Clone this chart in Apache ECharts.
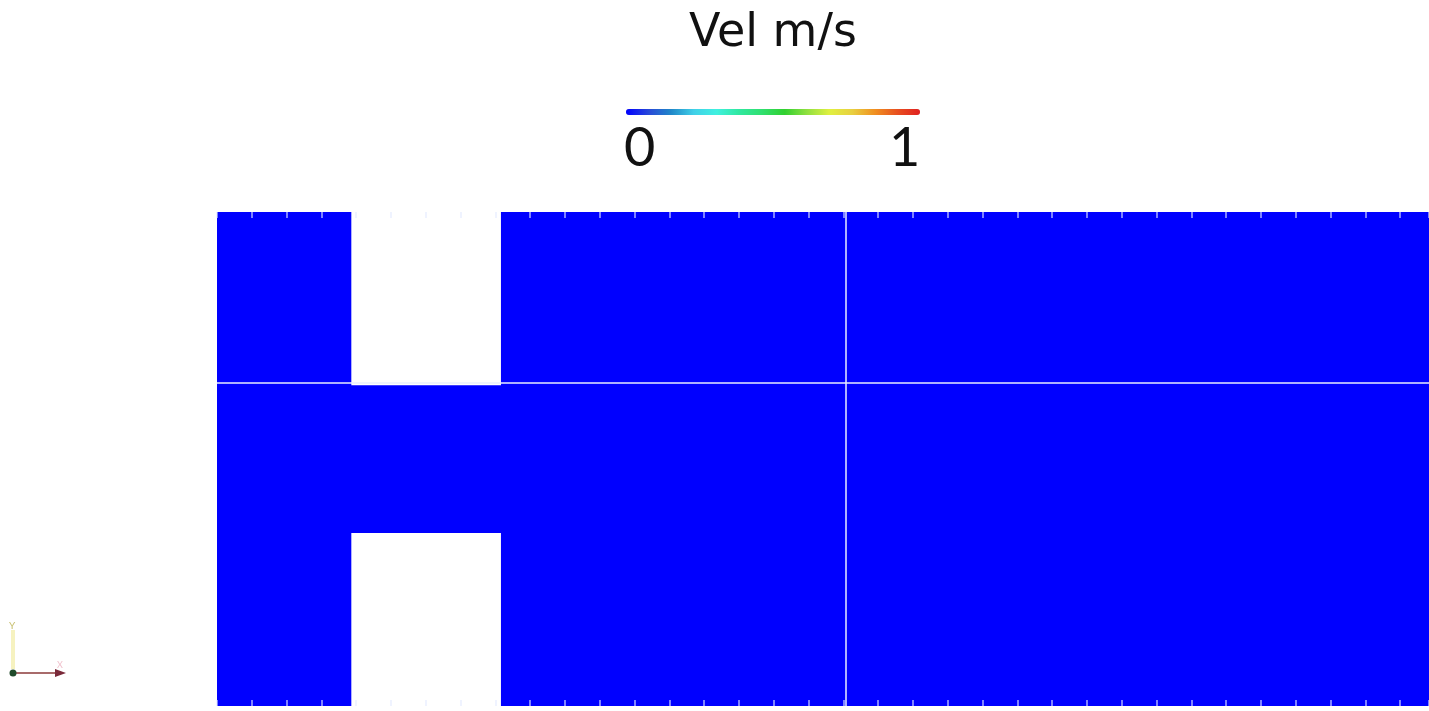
<!DOCTYPE html>
<html>
<head>
<meta charset="utf-8">
<title>Vel m/s</title>
<script src="https://cdn.jsdelivr.net/npm/echarts@6/dist/echarts.min.js"></script>
<style>
  html, body { margin: 0; padding: 0; background: #ffffff; }
  #chartVel { width: 1429px; height: 711px; }
</style>
</head>
<body>
<div id="chartVel"></div>
<script>
// domain blocks (grid units, one unit = one mesh tick), velocity per block
var blockX0 = [0, 3.85, 8.16];
var blockX1 = [3.86, 8.17, 34.83];
var blockY0 = [0, 4.97, 0];
var blockY1 = [14.2, 9.22, 14.2];
var blockVel = [0, 0, 0];

// block interfaces (white lines)
var interfaceX = [18.07];
var interfaceY = [9.28];

var velRange = [0, 1];
var velLabels = ['0', '1'];
var jetColors = ['#0000ff', '#2848d8', '#2088c8', '#40d0e8', '#40f0e0', '#30e8a0', '#30e070',
                 '#30d030', '#90e040', '#e0f040', '#e8d040', '#f09020', '#e85020', '#e02020'];

var chart_vel = echarts.init(document.getElementById('chartVel'));

var blocks = [];
for (var i = 0; i < blockVel.length; i++) {
    blocks.push([blockX0[i], blockY0[i], blockX1[i], blockY1[i], blockVel[i]]);
}

var lines = [];
interfaceX.forEach(function (v) { lines.push({ xAxis: v }); });
interfaceY.forEach(function (v) { lines.push({ yAxis: v }); });

var tickStyle = {
    show: true,
    inside: true,
    length: 6,
    lineStyle: { color: 'rgba(225,232,255,0.75)', width: 1.5 }
};

chart_vel.setOption({
    animation: false,
    title: {
        text: 'Vel m/s',
        left: 684,
        top: 6,
        textStyle: { fontFamily: 'DejaVu Sans', fontSize: 46, fontWeight: 'normal', color: '#111111' }
    },
    grid: { left: 217, top: 212, width: 1212, height: 494 },
    xAxis: [
        { type: 'value', position: 'top', min: 0, max: 34.83, interval: 1, z: 5,
          axisLine: { show: false, onZero: false }, axisLabel: { show: false }, splitLine: { show: false }, axisTick: tickStyle },
        { type: 'value', position: 'bottom', min: 0, max: 34.83, interval: 1, z: 5,
          axisLine: { show: false, onZero: false }, axisLabel: { show: false }, splitLine: { show: false }, axisTick: tickStyle }
    ],
    yAxis: {
        type: 'value', min: 0, max: 14.2, show: false
    },
    visualMap: {
        type: 'continuous',
        orient: 'horizontal',
        min: velRange[0],
        max: velRange[1],
        dimension: 4,
        seriesIndex: 0,
        left: 626,
        top: 109,
        padding: 0,
        itemWidth: 6,
        itemHeight: 294,
        calculable: false,
        hoverLink: false,
        inRange: { color: jetColors }
    },
    graphic: [
        { type: 'text', left: 624, top: 122,
          style: { text: velLabels[0], font: '54px Lato', fill: '#111111' } },
        { type: 'text', left: 889, top: 122,
          style: { text: velLabels[1], font: '54px Lato', fill: '#111111' } },
        // orientation triad
        { type: 'line', shape: { x1: 13, y1: 630, x2: 13, y2: 669 },
          style: { stroke: '#f6f2c0', lineWidth: 4 } },
        { type: 'text', x: 9, y: 621, style: { text: 'Y', font: '10px Lato', fill: '#c8c070' } },
        { type: 'line', shape: { x1: 13, y1: 673, x2: 58, y2: 673 },
          style: { stroke: '#8b3a3a', lineWidth: 1.5 } },
        { type: 'polygon', shape: { points: [[55, 669], [66, 673], [55, 677]] },
          style: { fill: '#7a2a3a' } },
        { type: 'text', x: 57, y: 661, style: { text: 'X', font: '9px Lato', fill: '#f0c0cc' } },
        { type: 'circle', shape: { cx: 13, cy: 673, r: 3.5 }, style: { fill: '#1f4a2a' } }
    ],
    series: [{
        name: 'Vel',
        type: 'custom',
        z: 2,
        xAxisIndex: 0,
        renderItem: function (params, api) {
            var p0 = api.coord([api.value(0), api.value(1)]);
            var p1 = api.coord([api.value(2), api.value(3)]);
            return {
                type: 'rect',
                shape: {
                    x: Math.min(p0[0], p1[0]),
                    y: Math.min(p0[1], p1[1]),
                    width: Math.abs(p1[0] - p0[0]),
                    height: Math.abs(p1[1] - p0[1])
                },
                style: { fill: api.visual('color') }
            };
        },
        encode: { x: [0, 2], y: [1, 3] },
        data: blocks,
        markLine: {
            silent: true,
            symbol: 'none',
            label: { show: false },
            lineStyle: { color: '#e8eeff', width: 1.5, type: 'solid' },
            data: lines
        }
    }]
});
</script>
</body>
</html>
